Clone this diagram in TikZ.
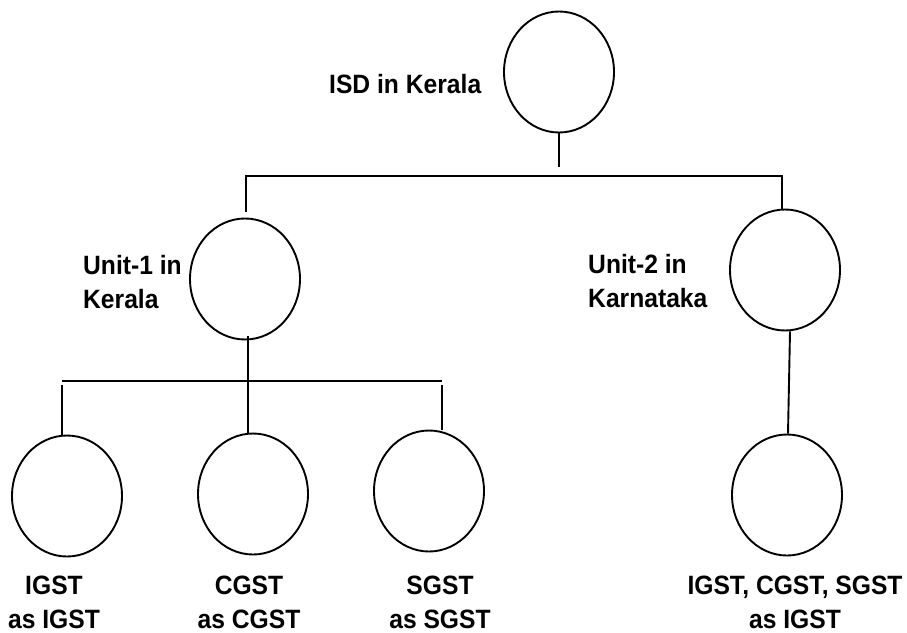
\documentclass[tikz,border=0pt]{standalone}
\usepackage{fontspec}
\setmainfont{Liberation Sans}[FakeStretch=0.93]
\usetikzlibrary{shapes.geometric}

\tikzset{
  bubble/.style={draw, ellipse, line width=1.9pt, minimum width=110pt, minimum height=121pt, inner sep=0pt},
  lbl/.style={font=\bfseries\fontsize{26.5}{34}\selectfont, inner sep=0pt},
  conn/.style={line width=1.9pt}
}

\begin{document}
\begin{tikzpicture}[x=1pt, y=-1pt]
\useasboundingbox (0,0) rectangle (907,632);
%ISD
\node[bubble] (isd) at (559,72) {};
\node[lbl, anchor=base west] (isdlbl) at (329,93) {ISD in Kerala};
\coordinate (isdstub) at (559,167);
\draw[conn] (isd.south) -- (isdstub);
%units
\node[bubble] (u1) at (245,279) {};
\node[lbl, anchor=base west, align=left] (u1lbl) at (83,308) {Unit-1 in\\Kerala};
\node[bubble] (u2) at (785,270) {};
\node[lbl, anchor=base west, align=left] (u2lbl) at (588,307) {Unit-2 in\\Karnataka};
\coordinate (bar1w) at (246,176);
\coordinate (bar1e) at (782,176);
\draw[conn] ([yshift=-36pt]bar1w) -- (bar1w) -- (bar1e) -- (bar1e |- u2.north);
%taxes under unit-1
\node[bubble] (igst) at (67,496) {};
\node[bubble] (cgst) at (253,494) {};
\node[bubble] (sgst) at (429,491) {};
\node[lbl, anchor=base, align=center] (igstlbl) at (54,628) {IGST\\as IGST};
\node[lbl, anchor=base, align=center] (cgstlbl) at (249,628) {CGST\\as CGST};
\node[lbl, anchor=base, align=center] (sgstlbl) at (440,628) {SGST\\as SGST};
\coordinate (u1stub) at (248,336);
\coordinate (bar2w) at (62,381);
\coordinate (bar2e) at (442,381);
\draw[conn] (bar2w) -- (bar2e);
\draw[conn] (u1stub) -- (u1stub |- cgst.north);
\draw[conn] ([yshift=-4pt]bar2w) -- (bar2w |- igst.north);
\draw[conn] ([yshift=-4pt]bar2e) -- (bar2e |- sgst.north);
%tax under unit-2
\node[bubble] (all) at (787,495) {};
\node[lbl, anchor=base, align=center] (alllbl) at (795,628) {IGST, CGST, SGST\\as IGST};
\draw[conn] ([xshift=5pt]u2.south) -- ([xshift=1pt]all.north);
\end{tikzpicture}
\end{document}
